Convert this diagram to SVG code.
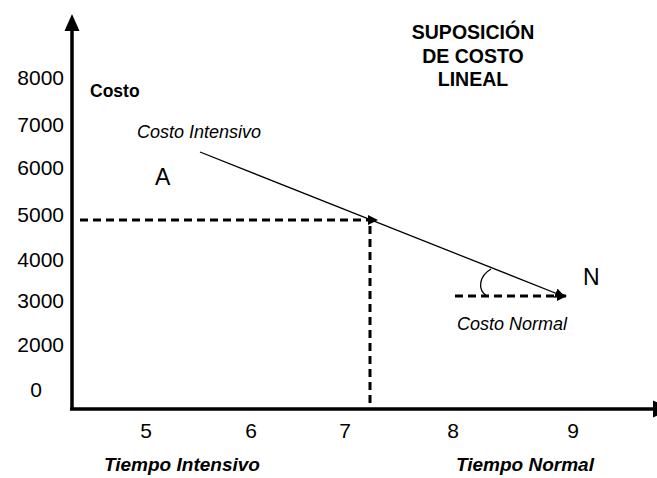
<svg xmlns="http://www.w3.org/2000/svg" width="657" height="478" viewBox="0 0 657 478">
<style>
text{font-family:"Liberation Sans",Arial,sans-serif;fill:#000}
.yl{font-size:21px;text-anchor:end}
.xl{font-size:21px;text-anchor:middle}
.it{font-size:18px;font-style:italic}
.bi{font-size:19px;font-style:italic;font-weight:bold}
.ti{font-size:19.5px;font-weight:bold;text-anchor:middle}
.pt{font-size:23px}
.ax{stroke:#000;stroke-width:3.5;fill:none}
.dash{stroke:#000;stroke-width:3;stroke-dasharray:8 5;fill:none}
.thin{stroke:#000;stroke-width:1.3;fill:none}
</style>
<defs>
<marker id="ah" viewBox="0 0 10 10" refX="9" refY="5" markerWidth="10" markerHeight="10" markerUnits="userSpaceOnUse" orient="auto">
<path d="M0,0 L10,5 L0,10 Z" fill="#000"/>
</marker>
</defs>
<g id="axes">
<line class="ax" x1="72" y1="28" x2="72" y2="410"/>
<polygon points="72,14 64.5,31 79.5,31" fill="#000"/>
<line class="ax" x1="70" y1="409" x2="655" y2="409"/>
<polygon points="653,400.5 653,417.5 673,409" fill="#000"/>
</g>
<g id="y-labels">
<text class="yl" x="64" y="85">8000</text>
<text class="yl" x="64" y="132">7000</text>
<text class="yl" x="64" y="175">6000</text>
<text class="yl" x="64" y="222">5000</text>
<text class="yl" x="64" y="267">4000</text>
<text class="yl" x="64" y="308">3000</text>
<text class="yl" x="64" y="352">2000</text>
<text class="yl" x="42" y="397">0</text>
</g>
<g id="x-labels">
<text class="xl" x="146" y="438">5</text>
<text class="xl" x="251" y="438">6</text>
<text class="xl" x="345" y="438">7</text>
<text class="xl" x="453" y="438">8</text>
<text class="xl" x="573" y="438">9</text>
<text class="bi" x="104" y="471">Tiempo Intensivo</text>
<text class="bi" x="456" y="471">Tiempo Normal</text>
</g>
<g id="connectors">
<line class="thin" x1="200" y1="152" x2="564" y2="296.5" marker-end="url(#ah)"/>
<line class="dash" x1="80" y1="220" x2="377" y2="220" marker-end="url(#ah)"/>
<line class="dash" x1="370" y1="226" x2="370" y2="406"/>
<line class="dash" x1="455" y1="296" x2="566" y2="296" marker-end="url(#ah)"/>
<path class="thin" d="M491,269 C479,276 477,290 487,296"/>
</g>
<g id="title">
<text class="ti" x="473" y="39">SUPOSICIÓN</text>
<text class="ti" x="473" y="63">DE COSTO</text>
<text class="ti" x="473" y="86">LINEAL</text>
</g>
<g id="labels">
<text x="90" y="97" style="font-size:17.5px;font-weight:bold">Costo</text>
<text class="it" x="137" y="138">Costo Intensivo</text>
<text class="pt" x="155" y="185">A</text>
<text class="pt" x="583" y="285">N</text>
<text class="it" x="457" y="330">Costo Normal</text>
</g>
</svg>
